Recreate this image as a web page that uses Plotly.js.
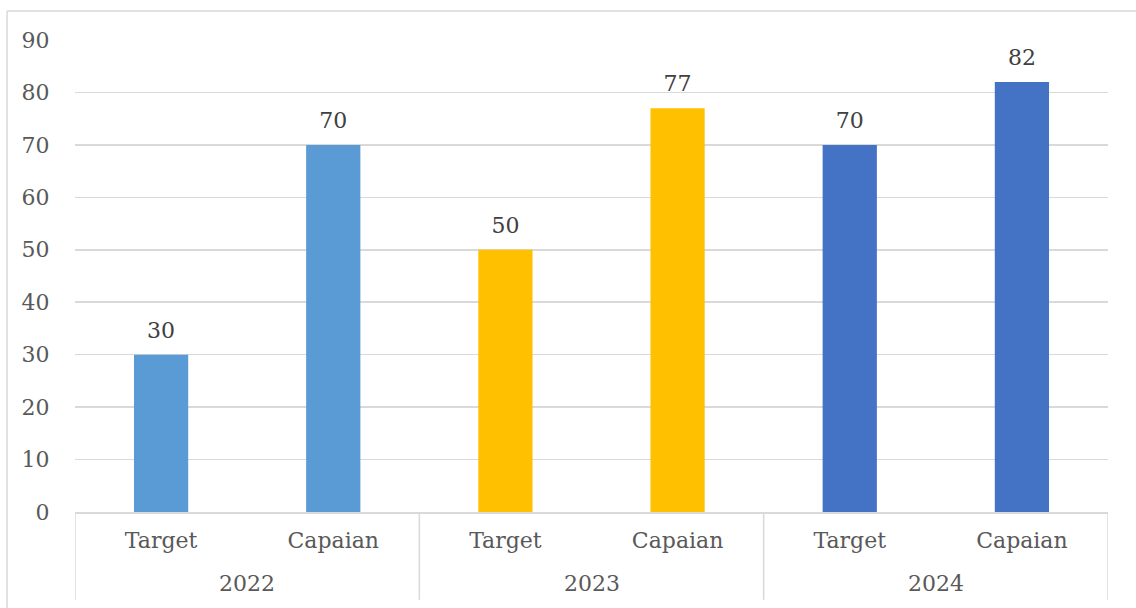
<!DOCTYPE html>
<html>
<head>
<meta charset="utf-8">
<script src="https://cdn.plot.ly/plotly-3.0.1.min.js"></script>
<style>html,body{margin:0;padding:0;background:#fff;}#chart{width:1136px;height:608px;}</style>
</head>
<body>
<div id="chart"></div>
<script>
const years = ["2022", "2022", "2023", "2023", "2024", "2024"];
const kinds = ["Target", "Capaian", "Target", "Capaian", "Target", "Capaian"];
const values = [30, 70, 50, 77, 70, 82];
const barColors = ["#5B9BD5", "#5B9BD5", "#FFC000", "#FFC000", "#4472C4", "#4472C4"];
const yTicks = [0, 10, 20, 30, 40, 50, 60, 70, 80, 90];
const yearGroups = ["2022", "2023", "2024"];

const serif = "'DejaVu Serif', 'Liberation Serif', serif";
const keys = years.map((y, i) => y + " " + kinds[i]);

const bars = {
  type: "bar",
  x: keys,
  y: values,
  marker: {color: barColors, line: {width: 0}},
  hoverinfo: "skip"
};

const labels = {
  type: "scatter",
  mode: "markers+text",
  x: keys,
  y: values,
  text: values.map(String),
  textposition: "top center",
  marker: {size: 17, opacity: 0},
  cliponaxis: false,
  textfont: {family: serif, size: 22, color: "#404040"},
  hoverinfo: "skip"
};

// group positions (category index) for year labels and dividers
const groupCenters = yearGroups.map(g => {
  const idx = years.map((y, i) => y === g ? i : -1).filter(i => i >= 0);
  return (idx[0] + idx[idx.length - 1]) / 2;
});
const dividerPos = [-0.5].concat(yearGroups.map(g => years.lastIndexOf(g) + 0.5));

const shapes = dividerPos.map(p => ({
  type: "line", xref: "x", yref: "paper", x0: p, x1: p, y0: 0, y1: -0.186,
  line: {color: "#d9d9d9", width: 1.5}
}));
shapes.push(
  {type: "line", xref: "paper", yref: "paper", x0: -0.0658, x1: 1.03, y0: 1.0614, y1: 1.0614, line: {color: "#d9d9d9", width: 1.5}},
  {type: "line", xref: "paper", yref: "paper", x0: -0.0658, x1: -0.0658, y0: 1.0614, y1: -0.21, line: {color: "#d9d9d9", width: 1.5}}
);

const annotations = yearGroups.map((g, i) => ({
  xref: "x", yref: "paper", x: groupCenters[i], y: -0.1525,
  yanchor: "middle", xanchor: "center", showarrow: false,
  text: g, font: {family: serif, size: 22, color: "#595959"}
}));

const layout = {
  width: 1136,
  height: 608,
  margin: {l: 75, r: 28, t: 40, b: 96},
  paper_bgcolor: "#ffffff",
  plot_bgcolor: "#ffffff",
  showlegend: false,
  bargap: 0.685,
  font: {family: serif, size: 22, color: "#595959"},
  xaxis: {
    type: "category",
    range: [-0.5, keys.length - 0.5],
    tickvals: keys,
    ticktext: kinds,
    showgrid: false,
    showline: true,
    linecolor: "#d9d9d9",
    linewidth: 1.5,
    ticks: "outside",
    ticklen: 8,
    tickcolor: "rgba(0,0,0,0)",
    tickfont: {family: serif, size: 22, color: "#595959"},
    zeroline: false,
    fixedrange: true
  },
  yaxis: {
    range: [0, 90],
    tickvals: yTicks,
    ticktext: yTicks.map(String),
    showgrid: true,
    gridcolor: "#d9d9d9",
    gridwidth: 1.5,
    zeroline: false,
    showline: false,
    ticks: "outside",
    ticklen: 20,
    tickcolor: "rgba(0,0,0,0)",
    tickfont: {family: serif, size: 22, color: "#595959"}
  },
  shapes: shapes,
  annotations: annotations
};

Plotly.newPlot("chart", [bars, labels], layout, {displayModeBar: false, staticPlot: true});
</script>
</body>
</html>
